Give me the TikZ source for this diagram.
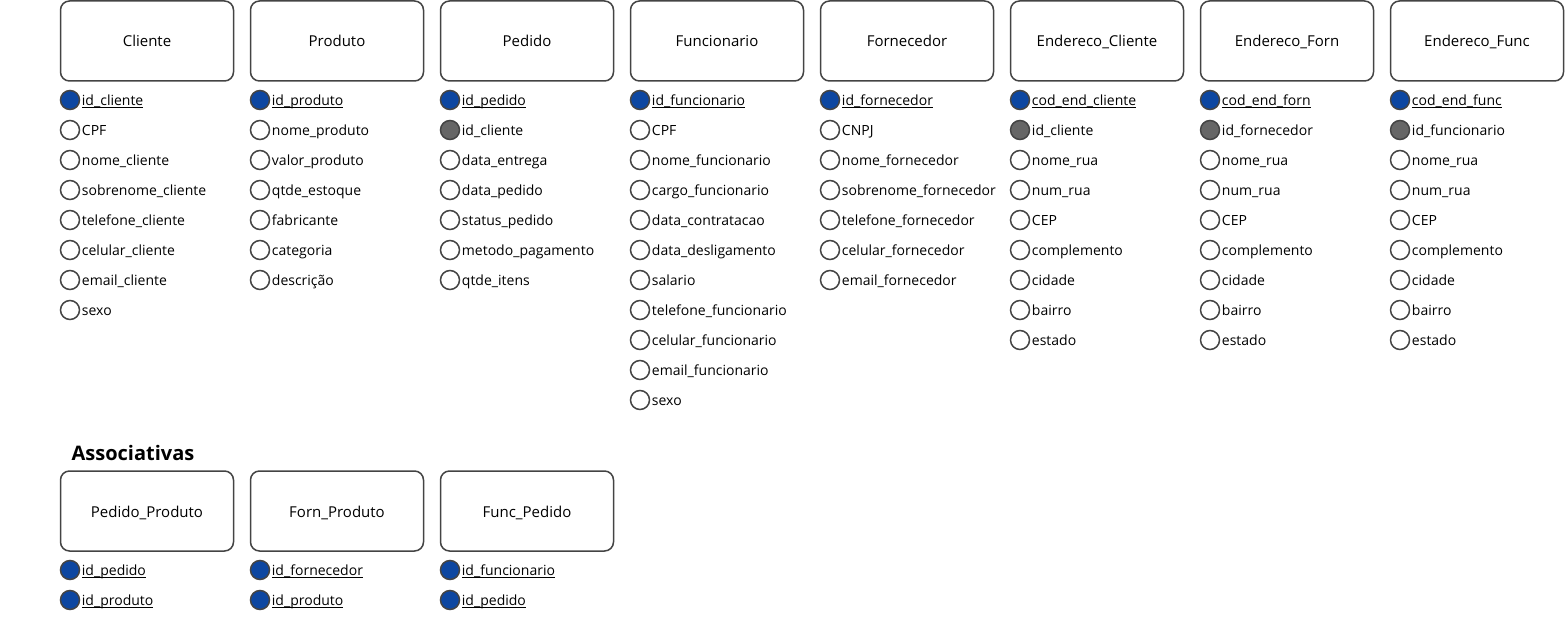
\documentclass[tikz,border=0pt]{standalone}
\usepackage{fontspec}
\setmainfont{Open Sans}
\usepackage{xcolor}
\definecolor{borda}{HTML}{444444}
\definecolor{chave}{HTML}{0D47A1}
\definecolor{estr}{HTML}{666666}
\newcommand{\pk}[1]{\underline{\smash{#1}}}

\begin{document}
\begin{tikzpicture}[x=1pt, y=-1pt,
    tabela/.style={rectangle, draw=borda, line width=1.5pt, rounded corners=9pt, minimum width=173pt, minimum height=80pt, align=center, text height=12pt, text depth=0pt, font=\fontsize{15}{17}\selectfont},
    bola/.style={circle, draw=borda, line width=1.5pt, minimum size=19pt, inner sep=0pt},
    campo/.style={anchor=west, inner sep=1.5pt, text height=11pt, text depth=0pt, font=\fontsize{14}{16}\selectfont}]

    \useasboundingbox (0,0) rectangle (1565,631);

    % Entidades
    \node[tabela] (cliente) at (147,41) {Cliente};
    \foreach \f/\a [count=\i] in {chave/\pk{id\_cliente}, white/CPF, white/nome\_cliente, white/sobrenome\_cliente, white/telefone\_cliente, white/celular\_cliente, white/email\_cliente, white/sexo}
    {
        \node[bola, fill=\f] (cliente-b\i) at (70,70+30*\i) {};
        \node[campo] (cliente-t\i) at (cliente-b\i.east) {\a};
    }

    \node[tabela] (produto) at (337,41) {Produto};
    \foreach \f/\a [count=\i] in {chave/\pk{id\_produto}, white/nome\_produto, white/valor\_produto, white/qtde\_estoque, white/fabricante, white/categoria, white/descrição}
    {
        \node[bola, fill=\f] (produto-b\i) at (260,70+30*\i) {};
        \node[campo] (produto-t\i) at (produto-b\i.east) {\a};
    }

    \node[tabela] (pedido) at (527,41) {Pedido};
    \foreach \f/\a [count=\i] in {chave/\pk{id\_pedido}, estr/id\_cliente, white/data\_entrega, white/data\_pedido, white/status\_pedido, white/metodo\_pagamento, white/qtde\_itens}
    {
        \node[bola, fill=\f] (pedido-b\i) at (450,70+30*\i) {};
        \node[campo] (pedido-t\i) at (pedido-b\i.east) {\a};
    }

    \node[tabela] (funcionario) at (717,41) {Funcionario};
    \foreach \f/\a [count=\i] in {chave/\pk{id\_funcionario}, white/CPF, white/nome\_funcionario, white/cargo\_funcionario, white/data\_contratacao, white/data\_desligamento, white/salario, white/telefone\_funcionario, white/celular\_funcionario, white/email\_funcionario, white/sexo}
    {
        \node[bola, fill=\f] (funcionario-b\i) at (640,70+30*\i) {};
        \node[campo] (funcionario-t\i) at (funcionario-b\i.east) {\a};
    }

    \node[tabela] (fornecedor) at (907,41) {Fornecedor};
    \foreach \f/\a [count=\i] in {chave/\pk{id\_fornecedor}, white/CNPJ, white/nome\_fornecedor, white/sobrenome\_fornecedor, white/telefone\_fornecedor, white/celular\_fornecedor, white/email\_fornecedor}
    {
        \node[bola, fill=\f] (fornecedor-b\i) at (830,70+30*\i) {};
        \node[campo] (fornecedor-t\i) at (fornecedor-b\i.east) {\a};
    }

    \node[tabela] (endcliente) at (1097,41) {Endereco\_Cliente};
    \foreach \f/\a [count=\i] in {chave/\pk{cod\_end\_cliente}, estr/id\_cliente, white/nome\_rua, white/num\_rua, white/CEP, white/complemento, white/cidade, white/bairro, white/estado}
    {
        \node[bola, fill=\f] (endcliente-b\i) at (1020,70+30*\i) {};
        \node[campo] (endcliente-t\i) at (endcliente-b\i.east) {\a};
    }

    \node[tabela] (endforn) at (1287,41) {Endereco\_Forn};
    \foreach \f/\a [count=\i] in {chave/\pk{cod\_end\_forn}, estr/id\_fornecedor, white/nome\_rua, white/num\_rua, white/CEP, white/complemento, white/cidade, white/bairro, white/estado}
    {
        \node[bola, fill=\f] (endforn-b\i) at (1210,70+30*\i) {};
        \node[campo] (endforn-t\i) at (endforn-b\i.east) {\a};
    }

    \node[tabela] (endfunc) at (1477,41) {Endereco\_Func};
    \foreach \f/\a [count=\i] in {chave/\pk{cod\_end\_func}, estr/id\_funcionario, white/nome\_rua, white/num\_rua, white/CEP, white/complemento, white/cidade, white/bairro, white/estado}
    {
        \node[bola, fill=\f] (endfunc-b\i) at (1400,70+30*\i) {};
        \node[campo] (endfunc-t\i) at (endfunc-b\i.east) {\a};
    }

    % Associativas
    \node[font=\fontsize{20}{22}\selectfont\bfseries, inner sep=0pt] (assoc) at (133,453) {Associativas};

    \node[tabela] (pedprod) at (147,511) {Pedido\_Produto};
    \foreach \f/\a [count=\i] in {chave/\pk{id\_pedido}, chave/\pk{id\_produto}}
    {
        \node[bola, fill=\f] (pedprod-b\i) at (70,540+30*\i) {};
        \node[campo] (pedprod-t\i) at (pedprod-b\i.east) {\a};
    }

    \node[tabela] (fornprod) at (337,511) {Forn\_Produto};
    \foreach \f/\a [count=\i] in {chave/\pk{id\_fornecedor}, chave/\pk{id\_produto}}
    {
        \node[bola, fill=\f] (fornprod-b\i) at (260,540+30*\i) {};
        \node[campo] (fornprod-t\i) at (fornprod-b\i.east) {\a};
    }

    \node[tabela] (funcped) at (527,511) {Func\_Pedido};
    \foreach \f/\a [count=\i] in {chave/\pk{id\_funcionario}, chave/\pk{id\_pedido}}
    {
        \node[bola, fill=\f] (funcped-b\i) at (450,540+30*\i) {};
        \node[campo] (funcped-t\i) at (funcped-b\i.east) {\a};
    }
\end{tikzpicture}
\end{document}
